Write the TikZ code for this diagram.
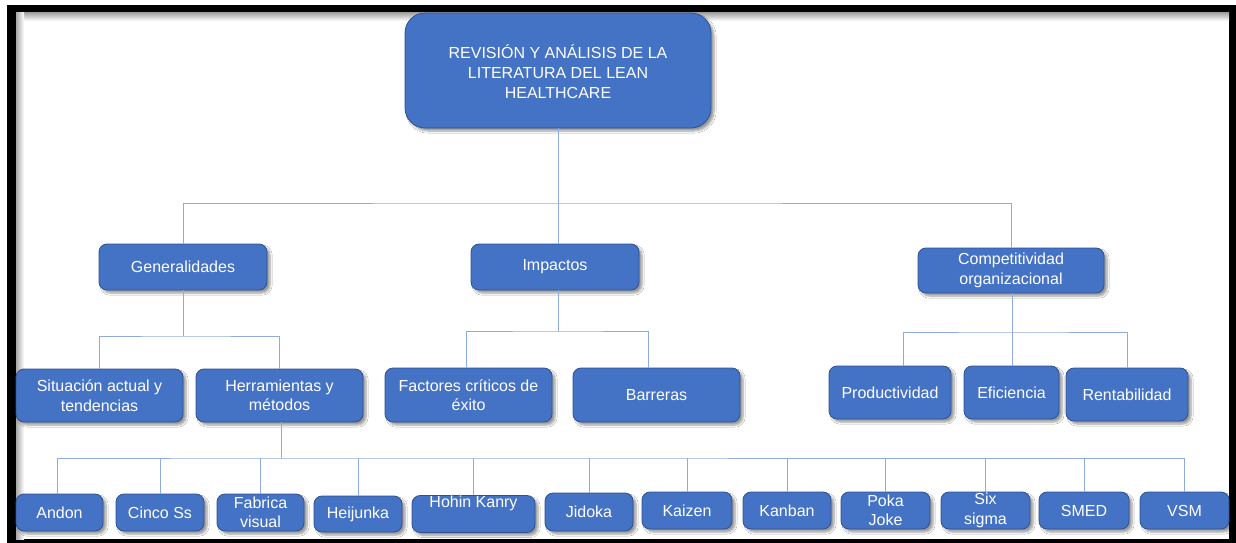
\documentclass[tikz,border=0pt]{standalone}
\usepackage{fontspec}
\setmainfont{Liberation Sans}
\usetikzlibrary{shadows.blur}
\definecolor{boxblue}{HTML}{4472C4}
\definecolor{boxedge}{HTML}{2F528F}
\definecolor{linkblue}{HTML}{8FAADC}
\begin{document}
\begin{tikzpicture}[x=1pt,y=-1pt,
  box/.style={draw=boxedge, line width=0.8pt, fill=boxblue, rounded corners=8pt,
    text=white, align=center, font=\fontsize{16}{19.5}\selectfont, inner sep=0pt,
    blur shadow={shadow xshift=3pt, shadow yshift=-3pt, shadow blur steps=6, shadow opacity=40}},
  link/.style={draw=linkblue, line width=1pt}]
\useasboundingbox (0,0) rectangle (1236,543);
\fill[white] (0,0) rectangle (1236,543);
% frame
\fill[black] (7,5) rectangle (1236,543);
\fill[white] (16,13) rectangle (1229,539);
\shade[top color=black!35, bottom color=white] (16,13) rectangle (1229,21);
\shade[left color=black!35, right color=white] (16,13) rectangle (24,539);

% nodes
\node[box, rounded corners=20pt, minimum width=306pt, minimum height=115pt] (title) at (558,70.5) {};
\node[text=white, align=center, font=\fontsize{16}{20}\selectfont, inner sep=0pt] (titletext) at (558,72)
  {REVISIÓN Y ANÁLISIS DE LA\\LITERATURA DEL LEAN\\HEALTHCARE};
\node[box, minimum width=168pt, minimum height=46pt] (gen) at (183,267) {Generalidades};
\node[box, minimum width=168pt, minimum height=46pt] (imp) at (555,267) {Impactos};
\node[box, minimum width=186pt, minimum height=45pt] (comp) at (1011,270.5) {Competitividad\\organizacional};
\node[box, minimum width=167pt, minimum height=53pt] (sit) at (99.5,395.5) {Situación actual y\\tendencias};
\node[box, minimum width=167pt, minimum height=53pt] (herr) at (279.5,395.5) {Herramientas y\\métodos};
\node[box, minimum width=167pt, minimum height=54pt] (fact) at (468.5,395) {Factores críticos de\\éxito};
\node[box, minimum width=167pt, minimum height=54pt] (barr) at (656.5,395) {Barreras};
\node[box, minimum width=122pt, minimum height=53pt] (prod) at (890,392.5) {Productividad};
\node[box, minimum width=95pt, minimum height=53pt] (efic) at (1011.5,392.5) {Eficiencia};
\node[box, minimum width=122pt, minimum height=53pt] (rent) at (1127,394.5) {Rentabilidad};

\node[box, minimum width=87pt, minimum height=37pt] (andon) at (59.5,512.5) {Andon};
\node[box, minimum width=88pt, minimum height=37pt] (cinco) at (160,512.5) {Cinco Ss};
\node[box, minimum width=87pt, minimum height=37pt] (fabr) at (260.5,512.5) {Fabrica\\visual};
\node[box, minimum width=88pt, minimum height=36pt] (heij) at (358,514) {Heijunka};
\node[box, minimum width=123pt, minimum height=36pt] (hohin) at (473.5,514) {Hohin Kanry\\\strut};
\node[box, minimum width=88pt, minimum height=38pt] (jidoka) at (589,512) {Jidoka};
\node[box, minimum width=90pt, minimum height=37pt] (kaizen) at (687,510.5) {Kaizen};
\node[box, minimum width=88pt, minimum height=37pt] (kanban) at (787,510.5) {Kanban};
\node[box, minimum width=89pt, minimum height=37pt] (poka) at (885.5,510.5) {Poka\\Joke};
\node[box, minimum width=89pt, minimum height=37pt] (six) at (985.5,510.5) {Six\\sigma};
\node[box, minimum width=90pt, minimum height=37pt] (smed) at (1084,510.5) {SMED};
\node[box, minimum width=89pt, minimum height=37pt] (vsm) at (1184.5,510.5) {VSM};

% connectors
\coordinate (j0) at (558,203);
\coordinate (j1) at (183,336);
\coordinate (j2) at (558,331);
\coordinate (j3) at (1012,332);
\coordinate (j4) at (281,458);

\draw[link] (title.south) -- (j0);
\draw[link] (gen.north) |- (j0) -| (comp.north);
\draw[link] (j0) -- (j0 |- imp.north);

\draw[link] (gen.south) -- (j1);
\draw[link] (sit.north) |- (j1) -| (herr.north);

\draw[link] (j2 |- imp.south) -- (j2);
\draw[link] ([xshift=-2pt]fact.north) |- (j2) -| ([xshift=-8pt]barr.north);

\draw[link] (j3 |- comp.south) -- (j3);
\draw[link] ([xshift=13pt]prod.north) |- (j3) -| (rent.north);
\draw[link] (j3) -- (j3 |- efic.north);

\draw[link] (j4 |- herr.south) -- (j4);
\draw[link] ([xshift=-2.5pt]andon.north) |- (j4) -| (vsm.north);
\foreach \n in {cinco,fabr,heij,hohin,jidoka,kaizen,kanban,poka,six,smed}
  \draw[link] (\n.north) -- (\n.north |- j4);
\end{tikzpicture}
\end{document}
